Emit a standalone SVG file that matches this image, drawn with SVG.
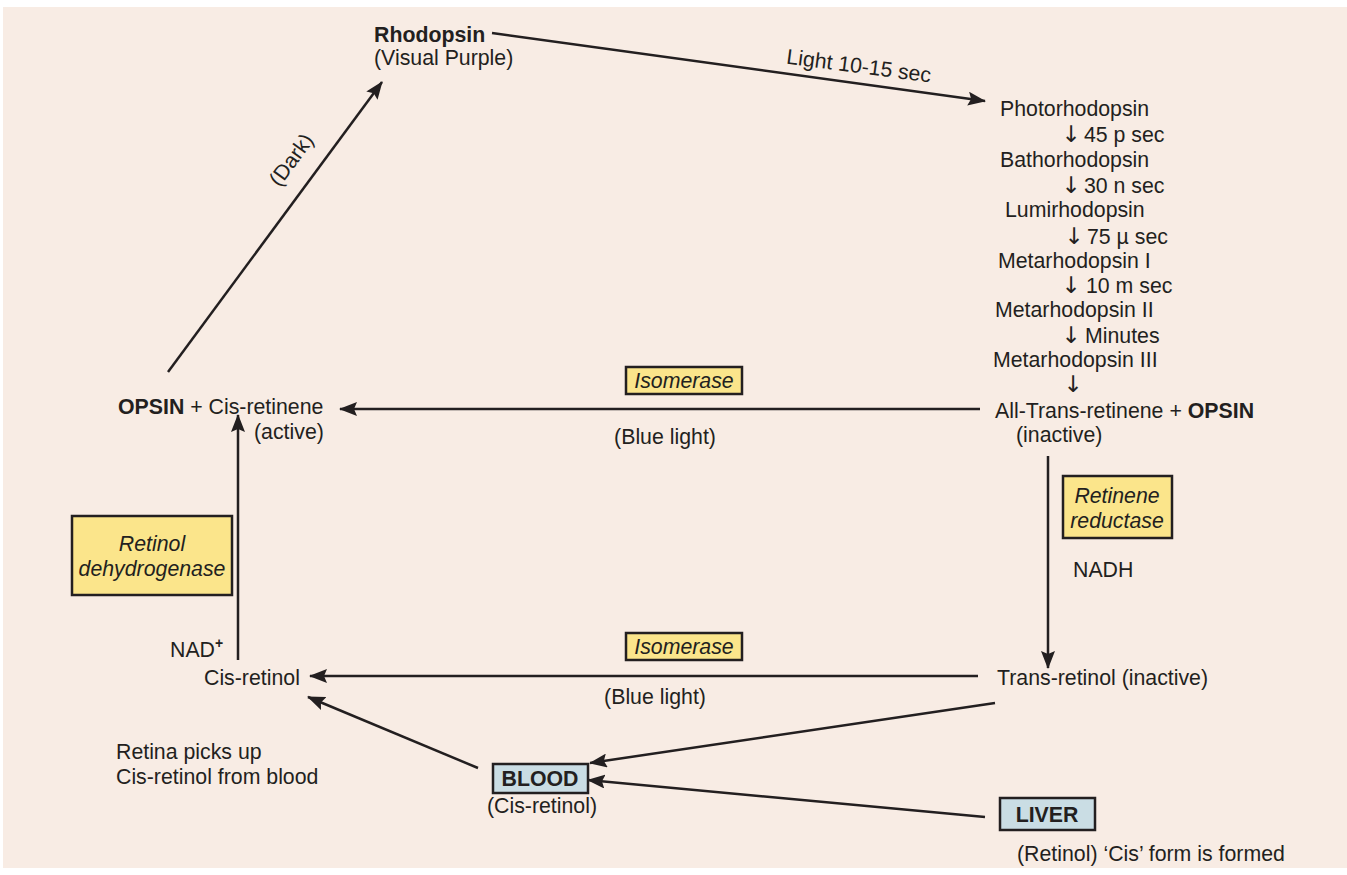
<svg xmlns="http://www.w3.org/2000/svg" width="1347" height="875" viewBox="0 0 1347 875">
<defs>
<style>
text{font-family:"Liberation Sans",Arial,sans-serif;font-size:21.3px;fill:#231f20}
.b{font-weight:bold}
.i{font-style:italic}
.m{text-anchor:middle}
.ar{font-family:"DejaVu Sans",sans-serif;font-size:23px;text-anchor:middle}
.ln{stroke:#231f20;stroke-width:2.5;fill:none;marker-end:url(#ah)}
.enz{fill:#fbe58b;stroke:#231f20;stroke-width:2.5}
.org{fill:#cadde4;stroke:#231f20;stroke-width:2.5}
</style>
<marker id="ah" markerUnits="userSpaceOnUse" markerWidth="20" markerHeight="14" refX="17" refY="7" orient="auto">
<path d="M0,0 L18,7 L0,14 L3,7 z" fill="#231f20"/>
</marker>
</defs>
<rect x="0" y="0" width="1347" height="875" fill="#ffffff"/>
<rect x="3" y="7" width="1344" height="861" fill="#f8ece4"/>

<g id="connectors">
<line class="ln" x1="492" y1="33" x2="985" y2="101"/>
<line class="ln" x1="168" y1="372" x2="382" y2="82"/>
<line class="ln" x1="980" y1="409" x2="340" y2="409"/>
<line class="ln" x1="1048" y1="456" x2="1048" y2="668"/>
<line class="ln" x1="238" y1="660" x2="238" y2="415"/>
<line class="ln" x1="978" y1="676" x2="310" y2="676"/>
<line class="ln" x1="995" y1="703" x2="590" y2="763"/>
<line class="ln" x1="478" y1="768" x2="308" y2="697"/>
<line class="ln" x1="985" y1="817" x2="588" y2="780"/>
<text transform="rotate(7.5 858 73)" x="858" y="73" class="m">Light 10-15 sec</text>
<text transform="rotate(-53.6 297 164)" x="297" y="164" class="m">(Dark)</text>
</g>

<g id="rhodopsin">
<text x="374" y="42" class="b">Rhodopsin</text>
<text x="374" y="65">(Visual Purple)</text>
</g>

<g id="intermediates">
<text x="1000" y="116">Photorhodopsin</text>
<text x="1071" y="142" class="ar">↓</text>
<text x="1084" y="142">45 p sec</text>
<text x="1000" y="167">Bathorhodopsin</text>
<text x="1071" y="193" class="ar">↓</text>
<text x="1084" y="193">30 n sec</text>
<text x="1005" y="217">Lumirhodopsin</text>
<text x="1074" y="244" class="ar">↓</text>
<text x="1087" y="244">75 µ sec</text>
<text x="998" y="268">Metarhodopsin I</text>
<text x="1071" y="293" class="ar">↓</text>
<text x="1086" y="293">10 m sec</text>
<text x="995" y="317">Metarhodopsin II</text>
<text x="1071" y="343" class="ar">↓</text>
<text x="1085" y="343">Minutes</text>
<text x="993" y="367">Metarhodopsin III</text>
<text x="1073" y="392" class="ar">↓</text>
</g>

<g id="all-trans">
<text x="995" y="418">All-Trans-retinene + <tspan class="b">OPSIN</tspan></text>
<text x="1016" y="442">(inactive)</text>
</g>

<g id="opsin-cis">
<text x="118" y="414"><tspan class="b">OPSIN</tspan> + Cis-retinene</text>
<text x="254" y="439">(active)</text>
</g>

<g id="isomerase-top">
<rect class="enz" x="626" y="367" width="116" height="27"/>
<text x="684" y="388" class="m i">Isomerase</text>
<text x="665" y="444" class="m">(Blue light)</text>
</g>

<g id="retinene-reductase">
<rect class="enz" x="1063" y="476" width="109" height="62"/>
<text x="1117" y="503" class="m i">Retinene</text>
<text x="1117" y="528" class="m i">reductase</text>
<text x="1073" y="577">NADH</text>
</g>

<g id="retinol-dehydrogenase">
<rect class="enz" x="72" y="516" width="160" height="79"/>
<text x="152" y="551" class="m i">Retinol</text>
<text x="152" y="576" class="m i">dehydrogenase</text>
<text x="170" y="657">NAD<tspan font-size="14" font-weight="bold" dy="-9">+</tspan></text>
</g>

<g id="cis-retinol">
<text x="204" y="685">Cis-retinol</text>
</g>

<g id="isomerase-bottom">
<rect class="enz" x="626" y="633" width="116" height="27"/>
<text x="684" y="654" class="m i">Isomerase</text>
<text x="655" y="704" class="m">(Blue light)</text>
</g>

<g id="trans-retinol">
<text x="997" y="685">Trans-retinol (inactive)</text>
</g>

<g id="retina-note">
<text x="116" y="759">Retina picks up</text>
<text x="116" y="784">Cis-retinol from blood</text>
</g>

<g id="blood">
<rect class="org" x="493" y="764" width="95" height="29"/>
<text x="540" y="786" class="m b">BLOOD</text>
<text x="542" y="813" class="m">(Cis-retinol)</text>
</g>

<g id="liver">
<rect class="org" x="1000" y="798" width="95" height="32"/>
<text x="1047" y="822" class="m b">LIVER</text>
<text x="1017" y="861">(Retinol) ‘Cis’ form is formed</text>
</g>
</svg>
